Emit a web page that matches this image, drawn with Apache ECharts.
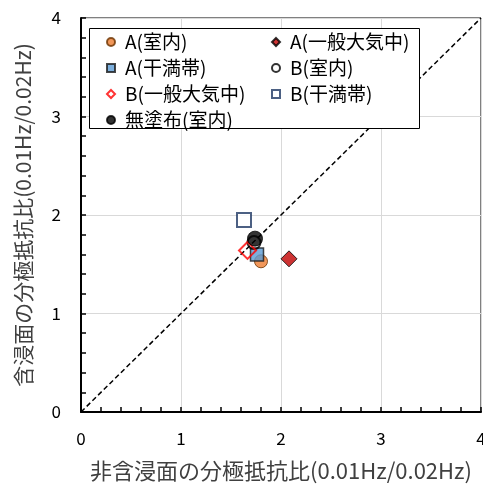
<!DOCTYPE html>
<html>
<head>
<meta charset="utf-8">
<script src="https://cdn.jsdelivr.net/npm/echarts@6/dist/echarts.min.js"></script>
<style>html,body{margin:0;padding:0;background:#fff}#c{width:483px;height:486px}</style>
</head>
<body>
<div id="c"></div>
<script>
const seriesNames = ['A(室内)','A(一般大気中)','A(干満帯)','B(室内)','B(一般大気中)','B(干満帯)','無塗布(室内)'];
const xValues = [1.80, 2.08, 1.76, 1.73, 1.665, 1.63, 1.74];
const yValues = [1.53, 1.555, 1.60, 1.72, 1.64, 1.95, 1.76];
const refLine = [[0, 0], [4, 4]];
const xTitle = '非含浸面の分極抵抗比(0.01Hz/0.02Hz)';
const yTitle = '含浸面の分極抵抗比(0.01Hz/0.02Hz)';

const styles = [
  {symbol:'circle', size:13, itemStyle:{color:'#ED7D31', borderColor:'#6b3300', borderWidth:1}},
  {symbol:'diamond', size:16, itemStyle:{color:'#C00000', borderColor:'#000', borderWidth:1}},
  {symbol:'rect', size:13, itemStyle:{color:'#5B9BD5', borderColor:'#1a1a1a', borderWidth:1.5}},
  {symbol:'circle', size:13, itemStyle:{color:'transparent', borderColor:'#000', borderWidth:2}},
  {symbol:'diamond', size:17, itemStyle:{color:'transparent', borderColor:'#FF0000', borderWidth:2}},
  {symbol:'rect', size:14, itemStyle:{color:'#fff', borderColor:'#1F3864', borderWidth:2}},
  {symbol:'circle', size:15, itemStyle:{color:'#000', borderColor:'#000', borderWidth:1}}
];

const font = '"Noto Sans CJK JP", "Noto Sans", sans-serif';

const series = seriesNames.map((n, i) => ({
  name: n,
  type: 'scatter',
  symbol: styles[i].symbol,
  symbolSize: styles[i].size,
  itemStyle: styles[i].itemStyle,
  z: 3 + i,
  data: [[xValues[i], yValues[i]]]
}));
series.unshift({
  name: 'ref',
  type: 'line',
  data: refLine,
  symbol: 'none',
  silent: true,
  lineStyle: {color:'#000', width:1.5, type:[5,3]},
  z: 2
});

const axisCommon = {
  type: 'value', min: 0, max: 4, interval: 1,
  axisLine: {show:true, onZero:false, lineStyle:{color:'#000', width:2}},
  axisTick: {show:true, inside:true, length:5, lineStyle:{color:'#000', width:1.5}},
  minorTick: {show:true, splitNumber:5, length:5, lineStyle:{color:'#000', width:1.5}},
  splitLine: {show:true, lineStyle:{color:'#d9d9d9', width:1}},
  nameLocation: 'middle'
};

const legendCommon = {
  orient: 'vertical',
  itemWidth: 8, itemHeight: 8,
  itemGap: 6,
  textStyle: {fontFamily: font, fontSize: 19, color: '#000', lineHeight: 20, padding:[0,0,0,5]},
  selectedMode: false,
  z: 10
};

const chart = echarts.init(document.getElementById('c'), null, {renderer:'canvas'});
chart.setOption({
  animation: false,
  backgroundColor: '#fff',
  grid: {left: 81, top: 18, width: 400, height: 394, show: true, borderColor: '#000', borderWidth: 1, backgroundColor: 'transparent', outerBoundsMode: 'none', containLabel: false},
  xAxis: Object.assign({}, axisCommon, {
    name: xTitle, nameGap: 48,
    nameTextStyle: {fontFamily: font, fontSize: 22, color: '#404040'},
    axisLabel: {fontFamily: font, fontSize: 17, color: '#000', margin: 18}
  }),
  yAxis: Object.assign({}, axisCommon, {
    name: yTitle, nameGap: 47, nameRotate: 90,
    nameTextStyle: {fontFamily: font, fontSize: 21, color: '#404040'},
    axisLabel: {fontFamily: font, fontSize: 17, color: '#000', margin: 20}
  }),
  graphic: [{
    type: 'rect', z: 5, silent: true,
    shape: {x: 89.5, y: 28.5, width: 330, height: 100},
    style: {fill: '#fff', stroke: '#000', lineWidth: 1}
  }],
  legend: [
    Object.assign({}, legendCommon, {left: 101, top: 27, data: [seriesNames[0], seriesNames[2], seriesNames[4], seriesNames[6]]}),
    Object.assign({}, legendCommon, {left: 266, top: 27, data: [seriesNames[1], seriesNames[3], seriesNames[5]]})
  ],
  series: series
});
</script>
</body>
</html>
